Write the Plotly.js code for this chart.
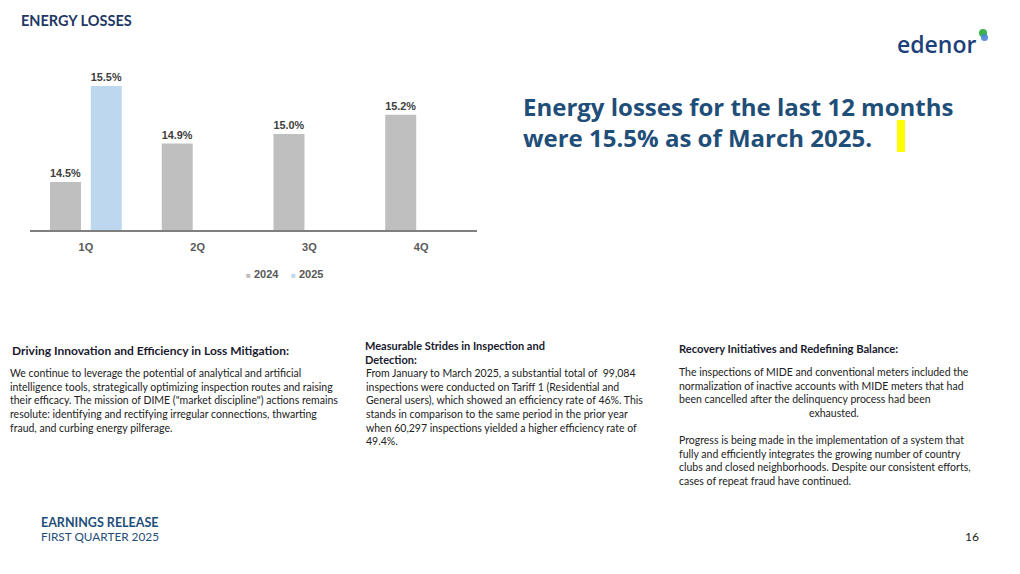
<!DOCTYPE html>
<html>
<head>
<meta charset="utf-8">
<script src="https://cdn.plot.ly/plotly-3.0.1.min.js"></script>
<style>html,body{margin:0;padding:0;background:#fff;}#chart{width:1020px;height:574px;}</style>
</head>
<body>
<div id="chart"></div>
<script>
// ---- data ----
const quarters = ['1Q', '2Q', '3Q', '4Q'];
const losses2024 = [14.5, 14.9, 15.0, 15.2];
const losses2025 = [15.5, null, null, null];
const seriesNames = ['2024', '2025'];
const seriesColors = ['#bfbfbf', '#bdd7ee'];

const W = 1020, H = 574;
const px = x => x / W;
const py = y => 1 - y / H;

const bodyFont = 'Lato, "Open Sans", sans-serif';
const chartFont = '"Liberation Sans", Arial, sans-serif';

const labelFont = {family: chartFont, size: 11, color: '#404040', weight: 'bold'};
const seriesValues = [losses2024, losses2025];
const traces = seriesNames.map((nm, i) => ({
  type: 'bar', name: nm, x: quarters, y: seriesValues[i],
  marker: {color: seriesColors[i]}, showlegend: false,
  texttemplate: '%{y:.1f}%', textposition: 'outside', cliponaxis: false,
  textfont: labelFont, hoverinfo: 'x+y'
}));

const col1Body = 'We continue to leverage the potential of analytical and artificial<br>' +
  'intelligence tools, strategically optimizing inspection routes and raising<br>' +
  'their efficacy. The mission of DIME ("market discipline") actions remains<br>' +
  'resolute: identifying and rectifying irregular connections, thwarting<br>' +
  'fraud, and curbing energy pilferage.';
const col2Body = 'From January to March 2025, a substantial total of  99,084<br>' +
  'inspections were conducted on Tariff 1 (Residential and<br>' +
  'General users), which showed an efficiency rate of 46%. This<br>' +
  'stands in comparison to the same period in the prior year<br>' +
  'when 60,297 inspections yielded a higher efficiency rate of<br>' +
  '49.4%.';
const col3Body1 = 'The inspections of MIDE and conventional meters included the<br>' +
  'normalization of inactive accounts with MIDE meters that had<br>' +
  'been cancelled after the delinquency process had been';
const col3Body2 = 'Progress is being made in the implementation of a system that<br>' +
  'fully and efficiently integrates the growing number of country<br>' +
  'clubs and closed neighborhoods. Despite our consistent efforts,<br>' +
  'cases of repeat fraud have continued.';

const ann = (text, x, y, opts) => Object.assign({
  text: text, xref: 'paper', yref: 'paper', x: px(x), y: py(y),
  xanchor: 'left', yanchor: 'middle', showarrow: false, align: 'left',
  font: {family: bodyFont, size: 10.5, color: '#222222'}
}, opts || {});

const headFont = s => ({family: bodyFont, size: s, color: '#1a1a2e', weight: 'bold'});

const annotations = [
  ann('ENERGY LOSSES', 19, 20, {font: {family: bodyFont, size: 14.5, color: '#1f3864', weight: 'bold'}}),
  ann('Energy losses for the last 12 months<br>were 15.5% as of March 2025.', 521, 122,
      {font: {family: '"Open Sans", sans-serif', size: 24, color: '#1f4e79', weight: 'bold'}}),
  ann('edenor', 895, 44, {font: {family: '"Open Sans", sans-serif', size: 23, color: '#1d3f7a', weight: 600}}),
  ann('Driving Innovation and Efficiency in Loss Mitigation:', 10, 350, {font: headFont(12)}),
  ann(col1Body, 8, 365, {yanchor: 'top'}),
  ann('Measurable Strides in Inspection and<br>Detection:', 363, 352, {font: headFont(11)}),
  ann(col2Body, 364, 365, {yanchor: 'top'}),
  ann('Recovery Initiatives and Redefining Balance:', 677, 348, {font: headFont(11.2)}),
  ann(col3Body1, 677, 364, {yanchor: 'top'}),
  ann('exhausted.', 834, 413, {xanchor: 'center'}),
  ann(col3Body2, 677, 432, {yanchor: 'top'}),
  ann('EARNINGS RELEASE', 39, 522, {font: {family: bodyFont, size: 12.5, color: '#1f4e79', weight: 'bold'}}),
  ann('FIRST QUARTER 2025', 39, 536, {font: {family: bodyFont, size: 11.8, color: '#1f4e79'}}),
  ann('16', 981, 536, {xanchor: 'right', font: {family: bodyFont, size: 12, color: '#222222'}})
];

// legend key (small squares + series names), laid out like the slide's chart legend
seriesNames.forEach((nm, i) => {
  annotations.push(ann('<span style="color:' + seriesColors[i] + ';font-size:8px">■</span> ' + nm,
    244 + 45 * i, 274, {font: {family: chartFont, size: 11, color: '#595959', weight: 'bold'}}));
});

const shapes = [
  {type: 'rect', xref: 'paper', yref: 'paper', x0: px(897), x1: px(905), y0: py(152), y1: py(120),
   fillcolor: '#ffff00', line: {width: 0}},
  {type: 'circle', xref: 'paper', yref: 'paper', x0: px(979), x1: px(987), y0: py(37), y1: py(29),
   fillcolor: '#3cb44b', line: {width: 0}},
  {type: 'circle', xref: 'paper', yref: 'paper', x0: px(981), x1: px(988), y0: py(41), y1: py(34),
   fillcolor: '#4a86d8', line: {width: 0}, opacity: 0.9}
];

const layout = {
  width: W, height: H,
  margin: {l: 0, r: 0, t: 0, b: 0},
  paper_bgcolor: '#ffffff', plot_bgcolor: '#ffffff',
  showlegend: false,
  barmode: 'group', bargap: 0.27, bargroupgap: 0.24,
  xaxis: {
    domain: [px(30), px(477)], anchor: 'y',
    type: 'category', range: [-0.5, 3.5],
    showgrid: false, zeroline: false, showline: true, linecolor: '#7f7f7f', linewidth: 2,
    ticks: '', ticklabelstandoff: 6,
    tickfont: {family: chartFont, size: 11, color: '#595959', weight: 'bold'},
    fixedrange: true
  },
  yaxis: {
    domain: [py(230), py(60)], range: [14, 15.77],
    visible: false, showgrid: false, zeroline: false, fixedrange: true
  },
  annotations: annotations,
  shapes: shapes
};

Plotly.newPlot('chart', traces, layout, {displayModeBar: false, staticPlot: true});
</script>
</body>
</html>
